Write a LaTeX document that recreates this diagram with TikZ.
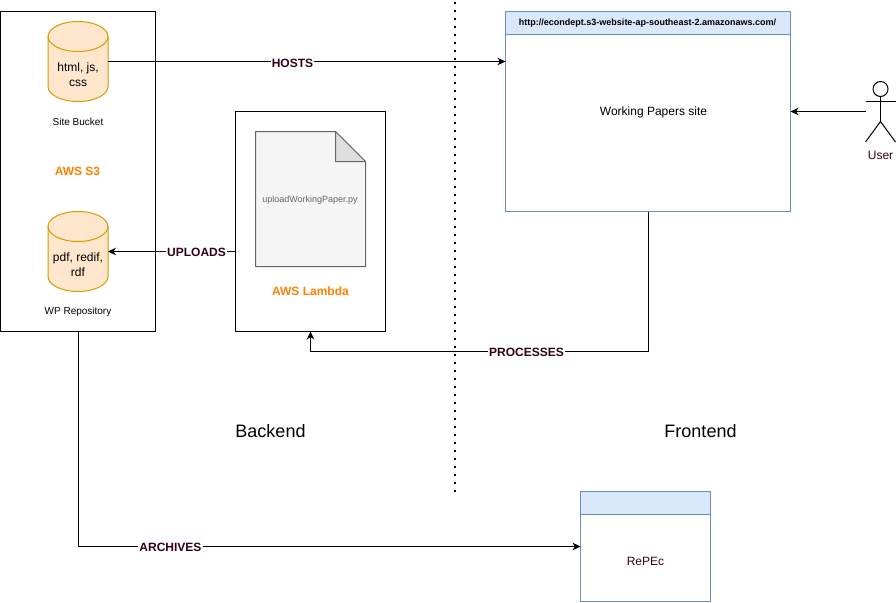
\documentclass[tikz,border=0pt]{standalone}
\usepackage{fontspec}
\setmainfont{Liberation Sans}
\usetikzlibrary{arrows.meta}
\definecolor{darktext}{HTML}{33001A}
\definecolor{awsorange}{HTML}{FF8000}
\definecolor{bluefill}{HTML}{DAE8FC}
\definecolor{blueline}{HTML}{6C8EBF}
\definecolor{cylfill}{HTML}{FFE6CC}
\definecolor{cylline}{HTML}{D79B00}
\tikzset{
	px/.style={font=\fontsize{#1}{15}\selectfont},
	boxblack/.style={draw=black,fill=white,rectangle,inner sep=0pt,outer sep=0pt},
	boxblue/.style={draw=blueline,fill=white,rectangle,inner sep=0pt,outer sep=0pt},
	headblue/.style={draw=blueline,fill=bluefill,rectangle,inner sep=0pt,outer sep=0pt},
	storebox/.style={rectangle,minimum width=60pt,minimum height=80pt,inner sep=0pt,outer sep=0pt},
	edgelabel/.style={fill=white,inner sep=1pt,text=darktext,font=\fontsize{12}{15}\selectfont\bfseries},
}
\newcommand{\drawstore}[1]{
	\draw[draw=cylline,fill=cylfill] ([yshift=-15pt]#1.north west) arc (180:360:30 and 15) -- ([yshift=15pt]#1.south east) arc (0:180:30 and 15) -- cycle;
	\draw[draw=cylline] ([yshift=-15pt]#1.north west) arc (180:0:30 and 15);
}
\begin{document}
\begin{tikzpicture}[>={Stealth[length=8pt,width=7.5pt,inset=2.5pt]},x=1pt,y=-1pt,line width=1pt,line join=round]
	\useasboundingbox (0,0) rectangle (896,602);
	% dividing line
	\coordinate (divtop) at (455.4,1.75);
	\coordinate (divend) at (455.4,491.75);
	\draw[line width=2pt,dash pattern=on 2pt off 6pt] (divtop)--(divend);
	% backend boxes
	\node[boxblack,minimum width=155pt,minimum height=320pt] (s3box) at (78,171.5) {};
	\node[boxblack,minimum width=150pt,minimum height=220pt] (lambdabox) at (310.5,221.5) {};
	\node[storebox] (sitebucket) at (78,61.5) {};
	\node[storebox] (wprepo) at (78,251.5) {};
	\drawstore{sitebucket}
	\drawstore{wprepo}
	\node[px=12,align=center] (sitefiles) at (78,74.5) {html, js,\\css};
	\node[px=12,align=center] (wpfiles) at (78,264.5) {pdf, redif,\\rdf};
	\node[px=10] (sitelabel) at (78,121.5) {Site Bucket};
	\node[px=10] (wplabel) at (78,311.5) {WP Repository};
	\node[text=awsorange,font=\fontsize{12}{15}\selectfont\bfseries] (s3label) at (77.5,171) {AWS S3};
	\draw[draw=black!60,fill=black!4] (255.5,131.5)--(335.5,131.5)--(365.5,161.5)--(365.5,266.5)--(255.5,266.5)--cycle;
	\draw[draw=black!60,fill=black!13] (335.5,131.5)--(365.5,161.5)--(335.5,161.5)--cycle;
	\node[px=9,text=black!60] (scriptlabel) at (310,200.5) {uploadWorkingPaper.py};
	\node[text=awsorange,font=\fontsize{12}{15}\selectfont\bfseries] (lambdalabel) at (310.5,291) {AWS Lambda};
	% frontend boxes
	\node[boxblue,minimum width=285pt,minimum height=200pt,px=12] (sitebox) at (648,111.5) {};
	\node[headblue,minimum width=285pt,minimum height=23pt] (sitehead) at (648,23) {};
	\node[font=\fontsize{9}{11}\selectfont\bfseries] (urllabel) at (647.5,23) {http://econdept.s3-website-ap-southeast-2.amazonaws.com/};
	\node[px=12] (sitetext) at (653.5,112) {Working Papers site};
	\node[boxblue,minimum width=130pt,minimum height=110pt] (repecbox) at (645.5,546.5) {};
	\node[headblue,minimum width=130pt,minimum height=23pt] (repechead) at (645.5,503) {};
	\node[px=12,text=darktext] (repectext) at (645.5,561) {RePEc};
	% user
	\draw (880.5,89) circle (7.5pt);
	\coordinate (armleft) at (865.5,101.5);
	\draw (armleft)--(895.5,101.5);
	\draw (880.5,96.5)--(880.5,121.5);
	\draw (865.5,142)--(880.5,121.5)--(895.5,142);
	\coordinate (userhand) at (865.5,111.5);
	\node[px=12,text=darktext] (userlabel) at (880.5,155) {User};
	% connectors
	\draw[->] (sitebucket.east)--(sitebucket.east -| sitebox.west);
	\draw[->] (lambdabox.west |- wprepo.east)--(wprepo.east);
	\draw[->] (userhand)--(userhand -| sitebox.east);
	\coordinate (procstart) at (648,211.5);
	\draw[->] (procstart)--(648,351.5)--(310.5,351.5)--(lambdabox.south);
	\coordinate (archstart) at (78.5,331.5);
	\draw[->] (archstart)--(78.5,546.5)--(repecbox.west |- 78.5,546.5);
	% connector labels
	\node[edgelabel] (hostslabel) at (292.5,63.5) {HOSTS};
	\node[edgelabel] (uploadslabel) at (196.5,252) {UPLOADS};
	\node[edgelabel] (processlabel) at (526.5,352) {PROCESSES};
	\node[edgelabel] (archlabel) at (170.5,547.5) {ARCHIVES};
	% side titles
	\node[px=18] (backendlabel) at (270.5,431) {Backend};
	\node[px=18] (frontendlabel) at (700.5,431) {Frontend};
\end{tikzpicture}
\end{document}
